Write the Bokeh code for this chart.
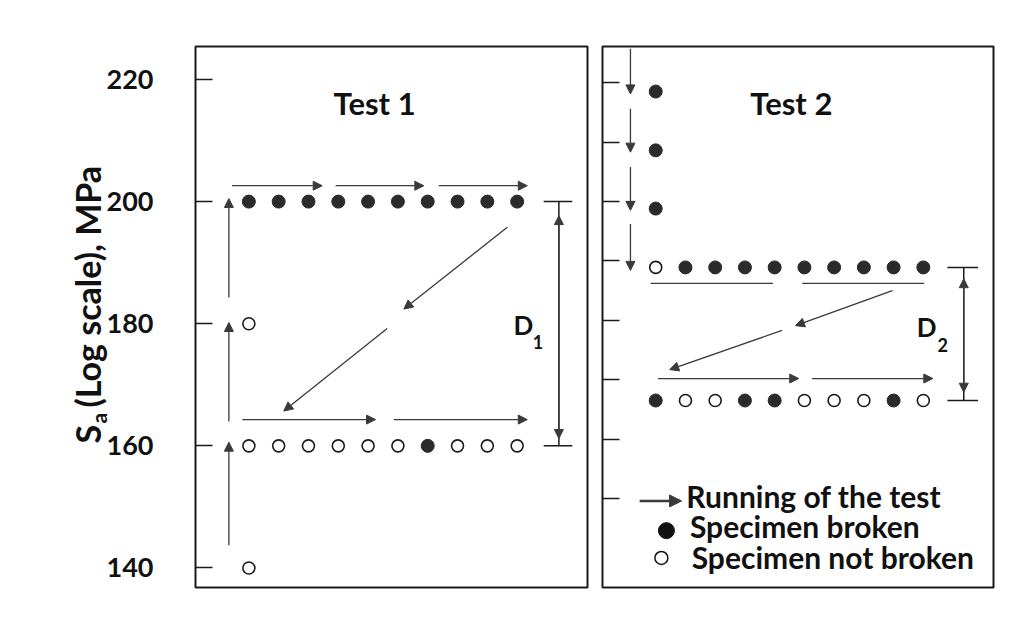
import math
from bokeh.plotting import figure
from bokeh.layouts import row
from bokeh.models import ColumnDataSource, Arrow, NormalHead, Label, FixedTicker
from bokeh.core.properties import value
from bokeh.embed import file_html
from bokeh.resources import INLINE

# ---------------- data ----------------
specimen = [1, 2, 3, 4, 5, 6, 7, 8, 9, 10]

# Test 1 (stress levels in MPa, 1 = broken, 0 = not broken)
t1_upper_level = 200
t1_upper_broken = [1, 1, 1, 1, 1, 1, 1, 1, 1, 1]
t1_lower_level = 160
t1_lower_broken = [0, 0, 0, 0, 0, 0, 1, 0, 0, 0]
t1_start_x = [1, 1]
t1_start_level = [140, 180]
t1_start_broken = [0, 0]

# Test 2
t2_start_x = [1, 1, 1]
t2_start_level = [218.5, 208.6, 198.8]
t2_start_broken = [1, 1, 1]
t2_upper_level = 188.9
t2_upper_broken = [0, 1, 1, 1, 1, 1, 1, 1, 1, 1]
t2_lower_level = 166.5
t2_lower_broken = [1, 0, 0, 1, 1, 0, 0, 0, 1, 0]

t1_ticks = [140, 160, 180, 200, 220]
t1_tick_labels = ["140", "160", "180", "200", "220"]
t2_ticks = [150, 160, 170, 180, 190, 200, 210, 220]

# arrows of the test run (data units)
t1_run_x0 = [0.44, 3.91, 7.37, 0.78, 5.86]
t1_run_x1 = [3.46, 6.87, 10.34, 5.25, 10.34]
t1_run_y = [202.6, 202.6, 202.6, 164.3, 164.3]
t1_up_x = [0.33, 0.33, 0.33]
t1_up_y0 = [143.7, 164.0, 184.3]
t1_up_y1 = [160.6, 180.2, 200.5]
t1_diag_x0 = [9.67, 5.64]
t1_diag_y0 = [195.8, 179.2]
t1_diag_x1 = [6.20, 2.17]
t1_diag_y1 = [182.4, 165.7]

t2_down_x = [0.15, 0.15, 0.15, 0.15]
t2_down_y0 = [225.7, 215.6, 205.8, 196.2]
t2_down_y1 = [218.1, 208.3, 198.5, 188.4]
t2_under_x0 = [0.83, 5.93]
t2_under_x1 = [4.94, 10.03]
t2_under_y = [186.2, 186.2]
t2_diag_x0 = [8.96, 5.25]
t2_diag_y0 = [185.0, 178.3]
t2_diag_x1 = [5.70, 1.47]
t2_diag_y1 = [179.1, 171.7]
t2_run_x0 = [1.08, 6.26]
t2_run_x1 = [5.81, 10.32]
t2_run_y = [170.2, 170.2]

# dimension markers
d1_x = 11.40
d1_bar = [10.89, 11.85]
d1_tips = [197.7, 161.2]
d2_x = 11.36
d2_bar = [10.81, 11.84]
d2_tips = [187.0, 167.9]

FONT = "Lato"
INK = "#2b2b2b"
LINE = "#3a3a3a"
TXT = "#111111"
T1_RANGE = (136.8, 225.4)
T2_RANGE = (135.03, 226.08)
TOP, BOTTOM = 46, 45


def base_fig(width, border_left, border_right, yr, ticks):
    p = figure(width=width, height=632, x_range=(-0.79, 12.36), y_range=yr,
               output_backend="svg", toolbar_location=None,
               x_axis_location=None, y_axis_location="left",
               min_border_left=border_left, min_border_right=border_right,
               min_border_top=TOP, min_border_bottom=BOTTOM,
               background_fill_color="white", border_fill_color="white")
    p.xgrid.visible = False
    p.ygrid.visible = False
    p.outline_line_color = "#1a1a1a"
    p.outline_line_width = 2
    p.outline_line_alpha = 1
    ax = p.yaxis[0]
    ax.ticker = FixedTicker(ticks=ticks)
    ax.axis_line_color = None
    ax.major_tick_in = 17
    ax.major_tick_out = 0
    ax.minor_tick_line_color = None
    ax.major_tick_line_color = "#1a1a1a"
    ax.major_tick_line_width = 1.5
    ax.major_label_standoff = 0
    ax.major_label_overrides = {t: "" for t in ticks}
    return p


def dots(p, xs, ys, broken, size=13):
    fx = [x for x, b in zip(xs, broken) if b]
    fy = [y for y, b in zip(ys, broken) if b]
    ox = [x for x, b in zip(xs, broken) if not b]
    oy = [y for y, b in zip(ys, broken) if not b]
    p.scatter(fx, fy, size=size, fill_color=INK, line_color=INK)
    p.scatter(ox, oy, size=size - 1, fill_color="white", line_color="#1a1a1a", line_width=1.6)


def arrows(p, x0, y0, x1, y1, head=9, lw=1.3):
    src = ColumnDataSource(dict(x0=x0, y0=y0, x1=x1, y1=y1))
    p.add_layout(Arrow(source=src, x_start="x0", y_start="y0", x_end="x1", y_end="y1",
                       line_color=LINE, line_width=lw,
                       end=NormalHead(size=head, fill_color=LINE, line_color=LINE, line_width=1)))


def label(p, x, y, text, size, **kw):
    p.add_layout(Label(x=x, y=y, text=text, text_font=FONT, text_font_style="bold",
                       text_font_size=size, text_color=TXT, **kw))


# ---------------- left strip: y-axis title and tick labels (same y scale as Test 1) ----------------
p0 = figure(width=188, height=632, x_range=(0, 188), y_range=T1_RANGE,
            output_backend="svg", toolbar_location=None,
            x_axis_location=None, y_axis_location=None,
            min_border_left=0, min_border_right=0,
            min_border_top=TOP, min_border_bottom=BOTTOM,
            background_fill_color="white", border_fill_color="white")
p0.xgrid.visible = False
p0.ygrid.visible = False
p0.outline_line_color = None

# tick labels of the Test 1 stress axis
p0.text(x=[153] * len(t1_ticks), y=t1_ticks, text=t1_tick_labels, text_font=value(FONT),
        text_font_style="bold", text_font_size="27px", text_color=TXT,
        text_align="right", text_baseline="middle")


def strip_y(canvas_y):
    lo, hi = T1_RANGE
    return hi - (canvas_y - TOP) * (hi - lo) / (632 - TOP - BOTTOM)


title_parts = ["S", "a", "(Log scale), MPa"]
title_x = [87, 98, 87]
title_y = [strip_y(443), strip_y(423), strip_y(407)]
title_size = ["34px", "21px", "34px"]
for t, x, y, s in zip(title_parts, title_x, title_y, title_size):
    p0.text(x=[x], y=[y], text=[t], angle=math.pi / 2, text_font=value(FONT),
            text_font_style="bold", text_font_size=s, text_color=TXT,
            text_align="left", text_baseline="alphabetic")

# ---------------- Test 1 ----------------
p1 = base_fig(407, 7, 8, T1_RANGE, t1_ticks)

dots(p1, specimen, [t1_upper_level] * 10, t1_upper_broken)
dots(p1, specimen, [t1_lower_level] * 10, t1_lower_broken)
dots(p1, t1_start_x, t1_start_level, t1_start_broken)

arrows(p1, t1_run_x0, t1_run_y, t1_run_x1, t1_run_y)
arrows(p1, t1_up_x, t1_up_y0, t1_up_x, t1_up_y1)
arrows(p1, t1_diag_x0, t1_diag_y0, t1_diag_x1, t1_diag_y1)

p1.segment(x0=[d1_x, d1_bar[0], d1_bar[0]], y0=[t1_upper_level, t1_upper_level, t1_lower_level],
           x1=[d1_x, d1_bar[1], d1_bar[1]], y1=[t1_lower_level, t1_upper_level, t1_lower_level],
           line_color="#1a1a1a", line_width=1.5)
mid1 = (t1_upper_level + t1_lower_level) / 2
arrows(p1, [d1_x, d1_x], [mid1, mid1], [d1_x, d1_x], d1_tips)

label(p1, 3.84, 213.0, "Test 1", "31px")
label(p1, 9.88, 177.25, "D", "26px")
label(p1, 10.52, 175.9, "1", "18px")

# ---------------- Test 2 ----------------
p2 = base_fig(427, 7, 29, T2_RANGE, t2_ticks)

dots(p2, t2_start_x, t2_start_level, t2_start_broken)
dots(p2, specimen, [t2_upper_level] * 10, t2_upper_broken)
dots(p2, specimen, [t2_lower_level] * 10, t2_lower_broken)

arrows(p2, t2_down_x, t2_down_y0, t2_down_x, t2_down_y1)
p2.segment(x0=t2_under_x0, y0=t2_under_y, x1=t2_under_x1, y1=t2_under_y,
           line_color=LINE, line_width=1.3)
arrows(p2, t2_diag_x0, t2_diag_y0, t2_diag_x1, t2_diag_y1)
arrows(p2, t2_run_x0, t2_run_y, t2_run_x1, t2_run_y)

p2.segment(x0=[d2_x, d2_bar[0], d2_bar[0]], y0=[t2_upper_level, t2_upper_level, t2_lower_level],
           x1=[d2_x, d2_bar[1], d2_bar[1]], y1=[t2_lower_level, t2_upper_level, t2_lower_level],
           line_color="#1a1a1a", line_width=1.5)
mid2 = (t2_upper_level + t2_lower_level) / 2
arrows(p2, [d2_x, d2_x], [mid2, mid2], [d2_x, d2_x], d2_tips)

label(p2, 4.18, 213.3, "Test 2", "31px")
label(p2, 9.78, 176.1, "D", "26px")
label(p2, 10.48, 174.6, "2", "18px")

# legend
arrows(p2, [0.46], [149.6], [1.87], [149.6], head=12, lw=2.5)
p2.scatter([1.36], [144.6], size=16, fill_color=TXT, line_color=TXT)
p2.scatter([1.19], [140.0], size=13, fill_color="white", line_color=TXT, line_width=1.5)
label(p2, 2.03, 147.4, "Running of the test", "30px")
label(p2, 2.15, 142.4, "Specimen broken", "30px")
label(p2, 2.21, 137.1, "Specimen not broken", "30px")

layout = row(p0, p1, p2)
open("out.html", "w").write(file_html(layout, INLINE))
